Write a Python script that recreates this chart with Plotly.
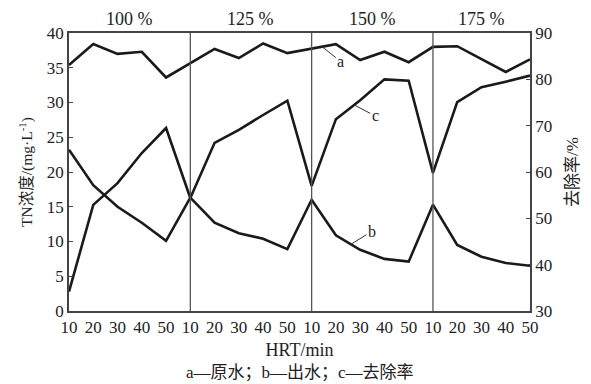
import numpy as np
import plotly.graph_objects as go

# HRT (min) for each sampling point; the sequence restarts for every load ratio
hrt = [10, 20, 30, 40, 50] * 4
load_ratio = ["100 %", "125 %", "150 %", "175 %"]

# TN concentration, mg/L (left axis)
tn_raw = [35.4, 38.4, 37.0, 37.3, 33.6,
          35.6, 37.7, 36.4, 38.5, 37.1,
          37.8, 38.4, 36.1, 37.3, 35.8,
          38.0, 38.1, 36.3, 34.4, 36.2]
tn_eff = [23.2, 18.1, 15.0, 12.7, 10.1,
          16.3, 12.7, 11.2, 10.4, 8.9,
          16.0, 10.9, 8.8, 7.5, 7.1,
          15.3, 9.5, 7.8, 6.9, 6.5]
# TN removal rate, % (right axis)
removal = [34.2, 52.9, 57.6, 64.1, 69.5,
           54.4, 66.3, 69.1, 72.3, 75.4,
           57.0, 71.4, 75.5, 80.0, 79.7,
           59.8, 75.1, 78.3, 79.5, 80.8]

idx = np.arange(len(hrt))
# indices where a new load-ratio block begins
breaks = [i for i in range(1, len(hrt)) if hrt[i] < hrt[i - 1]]
edges = [0] + breaks + [len(hrt) - 1]

SERIF = "Liberation Serif, Times New Roman, Noto Sans CJK SC, serif"
CJK = "Liberation Serif, Noto Sans CJK SC, serif"
line_style = dict(color="#1a1a1a", width=2.6)

fig = go.Figure()
fig.add_trace(go.Scatter(x=idx, y=tn_raw, mode="lines", line=line_style, name="a"))
fig.add_trace(go.Scatter(x=idx, y=tn_eff, mode="lines", line=line_style, name="b"))
fig.add_trace(go.Scatter(x=idx, y=removal, mode="lines", line=line_style, name="c",
                         yaxis="y2"))

# block separators
for b in breaks:
    fig.add_shape(type="line", xref="x", yref="paper", x0=b, x1=b, y0=0, y1=1,
                  line=dict(color="#555555", width=1.3))

# load ratio headers centred over each block
for k, lab in enumerate(load_ratio):
    fig.add_annotation(x=(edges[k] + edges[k + 1]) / 2, y=1.0, xref="x", yref="paper",
                       yanchor="bottom", yshift=2, text=lab, showarrow=False,
                       font=dict(family=SERIF, size=18, color="#222"))

# curve labels with leader lines
def curve_label(text, xpos, series, yref, ax, ay):
    fig.add_annotation(x=xpos, y=float(np.interp(xpos, idx, series)), xref="x", yref=yref,
                       text=text, showarrow=True, arrowhead=0, arrowwidth=1,
                       arrowcolor="#333", ax=ax, ay=ay, standoff=0,
                       font=dict(family=SERIF, size=16, color="#222"))

curve_label("a", 10.42, tn_raw, "y", 19, 15)
curve_label("b", 11.62, tn_eff, "y", 21, -13)
curve_label("c", 11.75, removal, "y2", 21, 11)

# series legend below the axis title
fig.add_annotation(x=0.5, y=-0.223, xref="paper", yref="paper", yanchor="middle",
                   text="a—原水；b—出水；c—去除率", showarrow=False,
                   font=dict(family=CJK, size=17, color="#222"))

fig.update_layout(
    width=591, height=384,
    margin=dict(l=69, r=59, t=33, b=73),
    paper_bgcolor="white", plot_bgcolor="white",
    showlegend=False,
    font=dict(family=SERIF, size=16, color="#222"),
    xaxis=dict(range=[0, len(hrt) - 1], tickvals=idx, ticktext=[str(h) for h in hrt],
               showgrid=False, zeroline=False, showline=True, mirror=True,
               linecolor="#444", linewidth=1.5, ticks="", tickangle=0,
               tickfont=dict(family=SERIF, size=17),
               title=dict(text="HRT/min", standoff=7,
                          font=dict(family=SERIF, size=18))),
    yaxis=dict(range=[0, 40], dtick=5, showgrid=False, zeroline=False,
               showline=True, linecolor="#444", linewidth=1.5,
               ticks="inside", ticklen=4, tickcolor="#444",
               tickfont=dict(family=SERIF, size=17),
               title=dict(text="TN浓度/(mg·L<sup>-1</sup>)", standoff=10,
                          font=dict(family=CJK, size=15.5))),
    yaxis2=dict(range=[30, 90], dtick=10, overlaying="y", side="right",
                showgrid=False, zeroline=False, showline=True, linecolor="#444",
                linewidth=1.5, ticks="inside", ticklen=4, tickcolor="#444",
                tickfont=dict(family=SERIF, size=17),
                title=dict(text="去除率/%", standoff=15,
                           font=dict(family=CJK, size=17))),
)

fig.write_html("out.html")
